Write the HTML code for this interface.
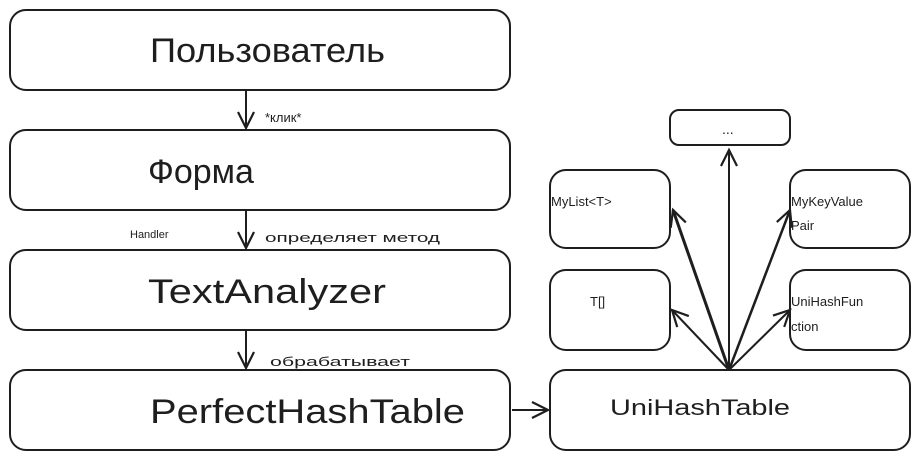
<!DOCTYPE html>
<html><head><meta charset="utf-8"><style>
body{margin:0;background:#fff;width:920px;height:460px;overflow:hidden}
text{font-family:"Liberation Sans","DejaVu Sans",sans-serif;fill:#1e1e1e}
</style></head><body>
<svg width="920" height="460" viewBox="0 0 920 460">
<defs><marker id="a" markerWidth="22" markerHeight="22" refX="18" refY="11" orient="auto" markerUnits="userSpaceOnUse"><path d="M2,3 L18,11 L2,19" fill="none" stroke="#1e1e1e" stroke-width="2.2"/></marker></defs>
<g fill="none" stroke="#1e1e1e" stroke-width="2">
<rect x="10" y="10" width="500" height="80" rx="16"/>
<rect x="10" y="130" width="500" height="80" rx="16"/>
<rect x="10" y="250" width="500" height="80" rx="16"/>
<rect x="10" y="370" width="500" height="80" rx="16"/>
<rect x="550" y="370" width="360" height="80" rx="16"/>
<rect x="670" y="110" width="120" height="35" rx="9"/>
<rect x="550" y="170" width="120" height="78" rx="16"/>
<rect x="790" y="170" width="120" height="78" rx="16"/>
<rect x="550" y="270" width="120" height="80" rx="16"/>
<rect x="790" y="270" width="120" height="80" rx="16"/>
<g marker-end="url(#a)">
<line x1="246" y1="90" x2="246" y2="128"/>
<line x1="246" y1="210" x2="246" y2="248"/>
<line x1="246" y1="330" x2="246" y2="368"/>
<line x1="512" y1="410" x2="548" y2="410"/>
<line x1="729" y1="370" x2="729" y2="150"/>
<line x1="729" y1="370" x2="673" y2="210" stroke-width="3"/>
<line x1="729" y1="370" x2="790" y2="210" stroke-width="2.5"/>
<line x1="729" y1="370" x2="672" y2="310"/>
<line x1="729" y1="370" x2="790" y2="310"/>
</g></g>
<g font-size="34" lengthAdjust="spacingAndGlyphs">
<text x="150" y="62" textLength="235" lengthAdjust="spacingAndGlyphs">Пользователь</text>
<text x="148" y="183">Форма</text>
<text x="148" y="303" textLength="238" lengthAdjust="spacingAndGlyphs">TextAnalyzer</text>
<text x="150" y="423" textLength="315" lengthAdjust="spacingAndGlyphs">PerfectHashTable</text>
</g>
<text x="610" y="415" font-size="22" textLength="180" lengthAdjust="spacingAndGlyphs">UniHashTable</text>
<text x="722" y="134" font-size="14">...</text>
<g font-size="13">
<text x="551" y="206">MyList&lt;T&gt;</text>
<text x="590" y="306">T[]</text>
<text x="791" y="206">MyKeyValue</text><text x="791" y="230">Pair</text>
<text x="791" y="306">UniHashFun</text><text x="791" y="331">ction</text>
<text x="265" y="122">*клик*</text>
<text x="265" y="242" textLength="175" lengthAdjust="spacingAndGlyphs">определяет метод</text>
<text x="270" y="366" textLength="140" lengthAdjust="spacingAndGlyphs">обрабатывает</text>
</g>
<text x="130" y="238" font-size="11">Handler</text>
</svg>
</body></html>
